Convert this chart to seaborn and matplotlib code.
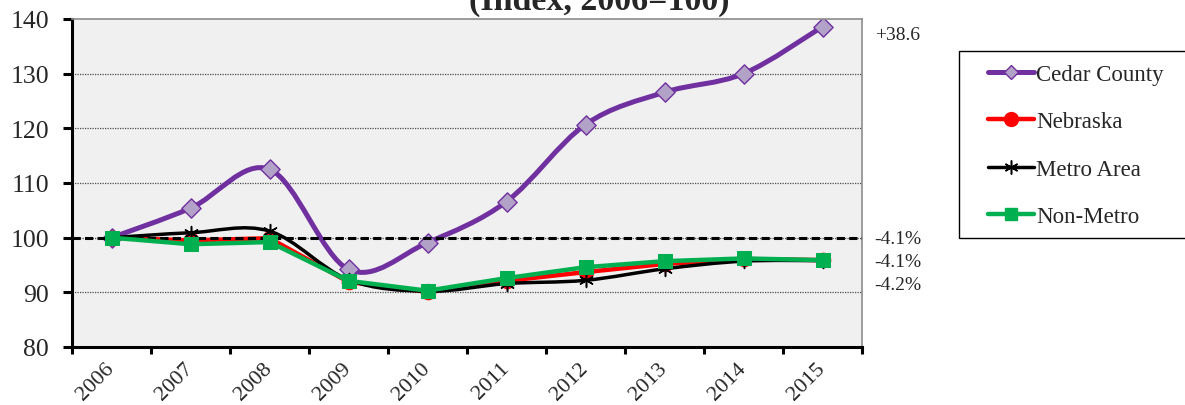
import numpy as np
import pandas as pd
import matplotlib
matplotlib.use("Agg")
import matplotlib.pyplot as plt
from matplotlib.path import Path
from matplotlib.patches import PathPatch, Rectangle
from matplotlib.lines import Line2D
import seaborn as sns

# %% data
years = ['2006', '2007', '2008', '2009', '2010', '2011', '2012', '2013', '2014', '2015']
cedar = [100.0, 105.4, 112.5, 94.2, 99.1, 106.6, 120.7, 126.6, 130.0, 138.6]
nebraska = [100.0, 99.5, 99.9, 91.9, 90.1, 92.1, 93.7, 95.2, 96.1, 95.9]
metro = [100.0, 100.9, 101.2, 92.3, 90.2, 91.6, 92.2, 94.3, 95.7, 95.8]
non_metro = [100.0, 98.8, 99.2, 92.1, 90.3, 92.6, 94.6, 95.7, 96.2, 95.9]
series_names = ['Cedar County', 'Nebraska', 'Metro Area', 'Non-Metro']
end_labels = ['+38.6', '-4.1%', '-4.1%', '-4.2%']
end_label_y = [137.2, 99.8, 95.6, 91.5]

df = pd.DataFrame({'year': years, 'Cedar County': cedar, 'Nebraska': nebraska,
                   'Metro Area': metro, 'Non-Metro': non_metro})
df['pos'] = np.arange(len(years))
df_long = df.melt(id_vars=['year', 'pos'], var_name='series', value_name='index')

purple = '#7030A0'
purple_light = '#B3A2C7'
red = '#FF0000'
green = '#00B050'


def smooth_path(xs, ys):
    # Excel style "smoothed line": cubic bezier through the data points
    n = len(xs)
    verts = [(xs[0], ys[0])]
    codes = [Path.MOVETO]
    for i in range(n - 1):
        a = max(i - 1, 0)
        b = min(i + 2, n - 1)
        c1 = (xs[i] + (xs[i + 1] - xs[a]) / 6, ys[i] + (ys[i + 1] - ys[a]) / 6)
        c2 = (xs[i + 1] - (xs[b] - xs[i]) / 6, ys[i + 1] - (ys[b] - ys[i]) / 6)
        verts += [c1, c2, (xs[i + 1], ys[i + 1])]
        codes += [Path.CURVE4] * 3
    return Path(verts, codes)


# %% plot
sns.set_style('white')
plt.rcParams['font.family'] = ['Liberation Serif', 'DejaVu Serif']

fig = plt.figure(figsize=(11.85, 4.06), dpi=100)
ax = fig.add_axes([72 / 1185, 1 - 348 / 406, 790 / 1185, 328 / 406])
ax.set_facecolor('#F0F0F0')

x = df['pos'].to_numpy(dtype=float)

# Cedar County (smoothed)
ax.add_patch(PathPatch(smooth_path(x, df['Cedar County'].to_numpy()), fill=False,
                       edgecolor=purple, lw=3.6, zorder=2, capstyle='round', joinstyle='round'))
sns.scatterplot(data=df_long[df_long['series'] == 'Cedar County'], x='pos', y='index', ax=ax,
                marker='D', s=9.8 ** 2, color=purple_light, edgecolor=purple, linewidth=1.0,
                zorder=2.1, legend=False)

# Nebraska
sns.lineplot(data=df_long[df_long['series'] == 'Nebraska'], x='pos', y='index', ax=ax,
             color=red, lw=3.2, marker='o', markersize=10.5, markeredgecolor=red,
             zorder=3, legend=False)

# reference line at 100
ax.axhline(100, color='black', lw=2.2, linestyle=(0, (2.7, 1.4)), zorder=3.5)

# Metro Area (smoothed)
ax.add_patch(PathPatch(smooth_path(x, df['Metro Area'].to_numpy()), fill=False,
                       edgecolor='black', lw=2.5, zorder=4))
sns.scatterplot(data=df_long[df_long['series'] == 'Metro Area'], x='pos', y='index', ax=ax,
                marker=(6, 2, 0), s=10 ** 2, color='black', linewidth=1.1, zorder=4.1, legend=False)

# Non-Metro
sns.lineplot(data=df_long[df_long['series'] == 'Non-Metro'], x='pos', y='index', ax=ax,
             color=green, lw=3.2, marker='s', markersize=9.4, markeredgecolor=green,
             zorder=5, legend=False)

# axes styling
ax.set_xlim(-0.5, len(years) - 0.5)
ax.set_ylim(80, 140)
ax.set_yticks(np.arange(80, 141, 10))
ax.set_xticks(x)
ax.set_xticklabels(years)
ax.set_xticks(np.arange(-0.5, len(years)), minor=True)
ax.set_xlabel('')
ax.set_ylabel('')
ax.grid(False)
for yv in range(90, 140, 10):
    ax.axhline(yv, color='0.3', lw=0.9, linestyle=(0, (1, 1)), zorder=1)

for side in ['left', 'bottom']:
    ax.spines[side].set_color('black')
    ax.spines[side].set_linewidth(2.2)
for side in ['top', 'right']:
    ax.spines[side].set_color('#8C8C8C')
    ax.spines[side].set_linewidth(1.2)
    ax.spines[side].set_visible(True)

ax.tick_params(axis='y', direction='out', length=6.5, width=2.2, color='black',
               labelsize=18.5, pad=10, left=True)
ax.tick_params(axis='x', which='major', length=0, labelsize=16, pad=13)
ax.tick_params(axis='x', which='minor', direction='out', length=5, width=2.2, color='black',
               bottom=True)
plt.setp(ax.get_xticklabels(), rotation=45, ha='right', va='center', rotation_mode='anchor')

# end labels
for lab, yv in zip(end_labels, end_label_y):
    ax.text(1.016, yv, lab, transform=ax.get_yaxis_transform(), ha='left', va='center',
            fontsize=14, clip_on=False)

# title (cut at the top edge like the reference)
fig.text(599 / 1185, 1 - 10 / 406, '(Index, 2006=100)', ha='center', va='baseline',
         fontsize=24.5, fontweight='bold')

# legend with its own frame
fig.patches.append(Rectangle((959 / 1185, 1 - 239 / 406), 240 / 1185, 187 / 406,
                             transform=fig.transFigure, facecolor='white', edgecolor='black',
                             lw=1.0, zorder=0))
handles = [
    Line2D([], [], color=purple, lw=3.6, marker='D', markersize=7, markerfacecolor=purple_light,
           markeredgecolor=purple),
    Line2D([], [], color=red, lw=3.2, marker='o', markersize=10, markeredgecolor=red),
    Line2D([], [], color='black', lw=2.5, marker=(6, 2, 0), markersize=10, markeredgewidth=1.1),
    Line2D([], [], color=green, lw=3.2, marker='s', markersize=8, markeredgecolor=green),
]
fig.legend(handles, series_names, loc='upper left', bbox_to_anchor=(988 / 1185, 1 - 65 / 406),
           frameon=False, fontsize=16.5, handlelength=2.0, handletextpad=0.1, borderpad=0,
           borderaxespad=0, labelspacing=1.15)

plt.savefig('out.png', dpi=100)
